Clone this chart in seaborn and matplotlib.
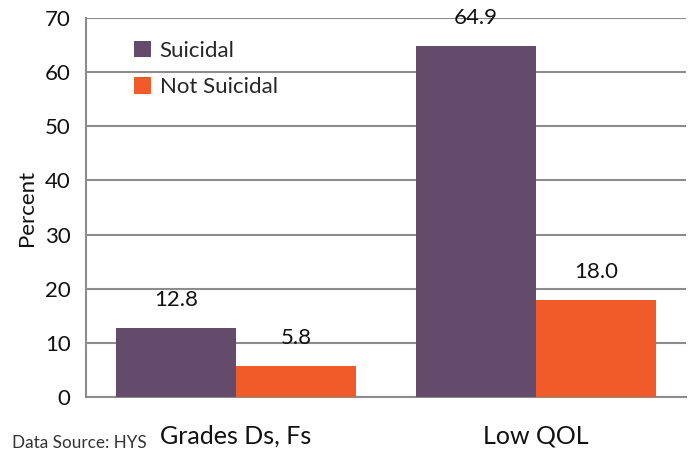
import matplotlib
matplotlib.use("Agg")
import matplotlib.pyplot as plt
import seaborn as sns
import pandas as pd
from matplotlib.patches import Patch

categories = ["Grades Ds, Fs", "Low QOL"]
groups = ["Suicidal", "Not Suicidal"]
suicidal = [12.8, 64.9]
not_suicidal = [5.8, 18.0]
y_ticks = [0, 10, 20, 30, 40, 50, 60, 70]

colors = {"Suicidal": "#654B6B", "Not Suicidal": "#F15A29"}

df = pd.DataFrame({
    "category": categories * 2,
    "group": [groups[0]] * len(categories) + [groups[1]] * len(categories),
    "value": suicidal + not_suicidal,
})

sns.set_style("white")
plt.rcParams["font.family"] = ["Lato", "DejaVu Sans"]

fig = plt.figure(figsize=(6.92, 4.55), dpi=100)
ax = fig.add_axes([0.1243, 0.1275, 0.8670, 0.8329])

sns.barplot(data=df, x="category", y="value", hue="group", order=categories,
            hue_order=groups, palette=colors, width=0.8, saturation=1,
            edgecolor="none", linewidth=0, ax=ax, legend=False, zorder=3)

ax.set_ylim(0, 70)
ax.set_xlim(-0.5, 1.5)
ax.set_yticks(y_ticks)
ax.set_yticklabels([str(t) for t in y_ticks], fontsize=16, color="#111111")
ax.yaxis.grid(True, color="#8c8c8c", linewidth=1.5, zorder=0)
ax.set_axisbelow(True)

# category separators as minor ticks on the x axis
ax.set_xticks([0, 1])
ax.set_xticklabels(categories, fontsize=18, color="#111111")
ax.set_xticks([-0.5, 0.5, 1.5], minor=True)
ax.tick_params(axis="x", which="major", length=0, pad=20)
ax.tick_params(axis="x", which="minor", length=8, width=1.5, color="#8c8c8c")
ax.tick_params(axis="y", length=8, width=1.5, color="#8c8c8c", pad=3)
ax.tick_params(axis="both", direction="out")

for side in ["top", "right"]:
    ax.spines[side].set_visible(False)
for side in ["left", "bottom"]:
    ax.spines[side].set_color("#8c8c8c")
    ax.spines[side].set_linewidth(1.5)

ax.set_xlabel("")
ax.set_ylabel("Percent", fontsize=16, color="#111111", labelpad=6)

# value labels above each bar
for container in ax.containers:
    for bar in container:
        h = bar.get_height()
        ax.annotate(f"{h:.1f}", (bar.get_x() + bar.get_width() / 2, h),
                    xytext=(0, 20), textcoords="offset points",
                    ha="center", va="center", fontsize=16, color="#111111")

handles = [Patch(facecolor=colors[g], edgecolor="none") for g in groups]
ax.legend(handles, groups, loc="upper left", bbox_to_anchor=(0.047, 0.993),
          frameon=False, fontsize=16, handlelength=0.75, handleheight=0.75,
          handletextpad=0.4, labelspacing=0.75)

fig.text(0.017, 0.008, "Data Source: HYS", fontsize=12.3, color="#333333",
         ha="left", va="bottom")

fig.savefig("out.png", dpi=100)
